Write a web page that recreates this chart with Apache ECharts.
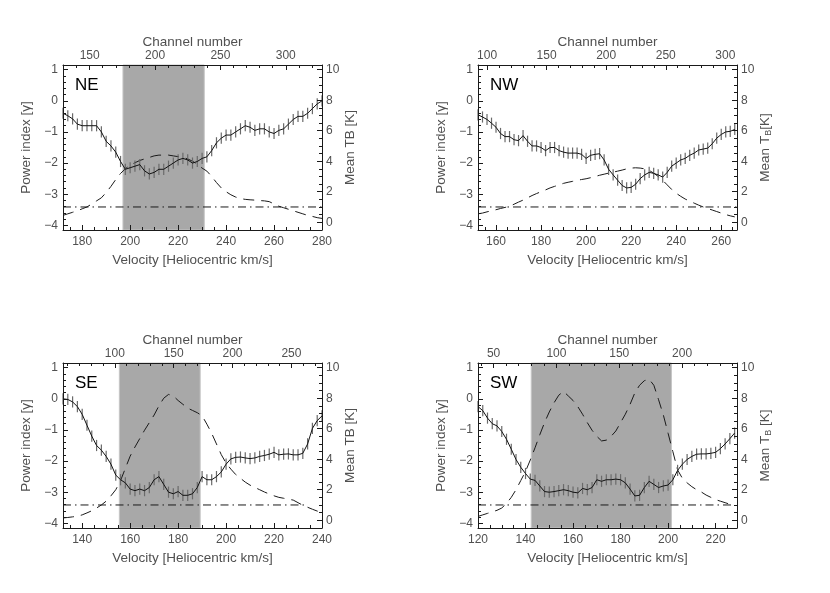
<!DOCTYPE html>
<html>
<head>
<meta charset="utf-8">
<script src="https://cdn.jsdelivr.net/npm/echarts@6/dist/echarts.min.js"></script>
<style>
  html, body { margin: 0; background: #fff; }
  #chart { width: 830px; height: 593px; }
</style>
</head>
<body>
<div id="chart"></div>
<script>
/*
 * 数据
 */
// NE
var neVel = [172,174,176,178,180,182,184,186,188,190,192,194,196,198,200,202,204,206,208,210,212,214,216,218,220,222,224,226,228,230,232,234,236,238,240,242,244,246,248,250,252,254,256,258,260,262,264,266,268,270,272,274,276,278,280];
var nePower = [-0.40,-0.48,-0.58,-0.75,-0.80,-0.80,-0.80,-0.80,-1.00,-1.30,-1.45,-1.65,-1.95,-2.20,-2.15,-2.10,-2.05,-2.25,-2.35,-2.30,-2.20,-2.20,-2.10,-2.00,-1.90,-1.85,-1.90,-2.00,-1.95,-1.85,-1.80,-1.60,-1.35,-1.20,-1.10,-1.10,-1.00,-0.90,-0.80,-0.85,-0.95,-0.90,-0.90,-1.00,-1.05,-0.95,-0.90,-0.75,-0.60,-0.50,-0.50,-0.40,-0.25,-0.10,0.00];
var neTb = [0.45,0.55,0.65,0.75,0.88,1.0,1.2,1.4,1.6,1.95,2.35,2.8,3.2,3.5,3.75,3.9,4.05,4.15,4.25,4.35,4.4,4.4,4.4,4.35,4.3,4.25,4.15,4.0,3.8,3.55,3.35,3.0,2.6,2.25,2.0,1.8,1.65,1.55,1.5,1.47,1.45,1.42,1.4,1.35,1.2,1.05,0.95,0.85,0.75,0.65,0.55,0.45,0.38,0.3,0.25];
var neShade = [197, 230.9];
var neNoiseSpan = [172, 280];
var neVelTicks = [180, 200, 220, 240, 260, 280];
var neChanTicks = [150, 200, 250, 300];

// NW
var nwVel = [152,154,156,158,160,162,164,166,168,170,172,174,176,178,180,182,184,186,188,190,192,194,196,198,200,202,204,206,208,210,212,214,216,218,220,222,224,226,228,230,232,234,236,238,240,242,244,246,248,250,252,254,256,258,260,262,264,266];
var nwPower = [-0.45,-0.52,-0.60,-0.72,-0.85,-1.05,-1.15,-1.15,-1.25,-1.28,-1.12,-1.30,-1.45,-1.45,-1.50,-1.60,-1.50,-1.50,-1.60,-1.65,-1.68,-1.68,-1.68,-1.72,-1.85,-1.75,-1.72,-1.70,-1.90,-2.20,-2.38,-2.55,-2.72,-2.80,-2.78,-2.68,-2.50,-2.38,-2.30,-2.33,-2.38,-2.45,-2.30,-2.10,-2.00,-1.90,-1.85,-1.75,-1.68,-1.58,-1.55,-1.52,-1.38,-1.20,-1.08,-1.00,-0.98,-0.92];
var nwTb = [0.55,0.6,0.68,0.75,0.82,0.9,0.97,1.05,1.18,1.32,1.45,1.6,1.75,1.88,2.0,2.12,2.25,2.35,2.45,2.55,2.62,2.68,2.75,2.8,2.85,2.92,3.0,3.08,3.15,3.22,3.28,3.35,3.42,3.5,3.55,3.57,3.55,3.5,3.4,3.22,3.0,2.75,2.45,2.15,1.9,1.7,1.52,1.38,1.25,1.12,1.0,0.9,0.8,0.7,0.6,0.5,0.42,0.35];
var nwShade = null;
var nwNoiseSpan = [152, 267];
var nwVelTicks = [160, 180, 200, 220, 240, 260];
var nwChanTicks = [100, 150, 200, 250, 300];

// SE
var seVel = [132,134,136,138,140,142,144,146,148,150,152,154,156,158,160,162,164,166,168,170,172,174,176,178,180,182,184,186,188,190,192,194,196,198,200,202,204,206,208,210,212,214,216,218,220,222,224,226,228,230,232,234,236,238,240];
var sePower = [0.0,-0.02,-0.1,-0.25,-0.5,-0.85,-1.2,-1.5,-1.65,-1.85,-2.1,-2.45,-2.6,-2.7,-2.9,-2.95,-2.9,-2.95,-2.85,-2.6,-2.5,-2.75,-3.0,-3.05,-2.98,-3.1,-3.1,-3.05,-2.85,-2.5,-2.6,-2.6,-2.5,-2.35,-2.1,-1.93,-1.88,-1.87,-1.9,-1.92,-1.9,-1.85,-1.82,-1.78,-1.72,-1.8,-1.78,-1.77,-1.8,-1.8,-1.75,-1.45,-0.95,-0.7,-0.55];
var seTb = [0.15,0.18,0.22,0.26,0.35,0.48,0.62,0.8,1.0,1.25,1.6,2.0,2.6,3.4,4.2,4.8,5.35,5.9,6.4,6.9,7.5,8.0,8.25,8.15,7.85,7.6,7.35,7.2,7.05,6.85,6.3,5.7,5.0,4.3,3.75,3.35,3.0,2.75,2.5,2.3,2.15,2.0,1.85,1.72,1.6,1.5,1.44,1.38,1.32,1.15,0.98,0.85,0.72,0.6,0.48];
var seShade = [155.5, 189.2];
var seNoiseSpan = [132, 233];
var seVelTicks = [140, 160, 180, 200, 220, 240];
var seChanTicks = [100, 150, 200, 250];

// SW
var swVel = [120,122,124,126,128,130,132,134,136,138,140,142,144,146,148,150,152,154,156,158,160,162,164,166,168,170,172,174,176,178,180,182,184,186,188,190,192,194,196,198,200,202,204,206,208,210,212,214,216,218,220,222,224,226,228];
var swPower = [-0.25,-0.38,-0.62,-0.8,-0.87,-1.05,-1.3,-1.62,-1.95,-2.2,-2.4,-2.58,-2.62,-2.8,-2.98,-3.0,-2.98,-2.95,-2.92,-2.95,-3.0,-3.02,-2.88,-2.92,-2.85,-2.6,-2.65,-2.6,-2.6,-2.58,-2.6,-2.7,-2.9,-3.12,-3.1,-2.85,-2.65,-2.75,-2.85,-2.8,-2.77,-2.6,-2.3,-2.1,-1.95,-1.85,-1.78,-1.77,-1.77,-1.75,-1.72,-1.6,-1.45,-1.28,-1.1];
var swTb = [0.25,0.35,0.45,0.55,0.65,0.8,1.1,1.5,2.0,2.6,3.2,3.95,4.75,5.6,6.4,7.1,7.7,8.2,8.45,8.15,7.85,7.45,6.95,6.4,5.9,5.5,5.2,5.25,5.5,5.85,6.4,6.95,7.6,8.35,8.85,9.15,9.25,8.85,7.9,6.9,5.7,4.5,3.3,2.75,2.45,2.2,2.0,1.85,1.65,1.5,1.35,1.25,1.15,1.05,null];
var swShade = [142.4, 201.4];
var swNoiseSpan = [120, 226.5];
var swVelTicks = [120, 140, 160, 180, 200, 220];
var swChanTicks = [50, 100, 150, 200];

var powerTicks = [-4, -3, -2, -1, 0, 1];
var tbTicks = [0, 2, 4, 6, 8, 10];
var noiseLevel = 1.0;   // 点划线 (右轴)
var errHalf = 0.18;     // 误差棒半长

/*
 * 工具函数
 */
var FONT = '"Liberation Sans", Arial, sans-serif';
var ink = '#1a1a1a';
var txt = '#505050';

function fmt(v) {
  return String(v).replace('-', '\u2212');
}

function minorList(min, max, step) {
  var out = [];
  var start = Math.ceil(min / step) * step;
  for (var v = start; v <= max + 1e-9; v += step) {
    out.push(Math.round(v * 1000) / 1000);
  }
  return out;
}

function pairs(xs, ys) {
  return xs.map(function (x, i) { return [x, ys[i]]; });
}

function majorAxis(grid, pos, min, max, ticks, name, nameGap, margin, extra) {
  var a = {
    type: 'value', gridIndex: grid, position: pos, min: min, max: max, z: 10,
    axisLine: { show: true, onZero: false, lineStyle: { color: ink, width: 1 } },
    axisTick: { show: true, inside: true, length: 5, customValues: ticks, lineStyle: { color: ink } },
    axisLabel: { show: true, customValues: ticks, margin: margin, color: txt, fontSize: 12, fontFamily: FONT, formatter: fmt },
    splitLine: { show: false },
    name: name, nameLocation: 'middle', nameGap: nameGap,
    nameTextStyle: { color: txt, fontSize: 13.5, fontFamily: FONT }
  };
  for (var k in extra) a[k] = extra[k];
  return a;
}

function minorAxis(grid, pos, min, max, step) {
  return {
    type: 'value', gridIndex: grid, position: pos, min: min, max: max, z: 10,
    axisLine: { show: false, onZero: false },
    axisTick: { show: true, inside: true, length: 3, customValues: minorList(min, max, step), lineStyle: { color: ink } },
    axisLabel: { show: false },
    splitLine: { show: false }
  };
}

var panels = [
  { label: 'NE', vel: neVel, power: nePower, tb: neTb, shade: neShade, noise: neNoiseSpan,
    velRange: [172, 280], velTicks: neVelTicks, chanRange: [129.6, 327.7], chanTicks: neChanTicks,
    tbName: 'Mean TB [K]', left: 63, top: 65 },
  { label: 'NW', vel: nwVel, power: nwPower, tb: nwTb, shade: nwShade, noise: nwNoiseSpan,
    velRange: [152, 267], velTicks: nwVelTicks, chanRange: [92.4, 309.8], chanTicks: nwChanTicks,
    tbName: 'Mean T{s|B}[K]', left: 478, top: 65 },
  { label: 'SE', vel: seVel, power: sePower, tb: seTb, shade: seShade, noise: seNoiseSpan,
    velRange: [132, 240], velTicks: seVelTicks, chanRange: [56, 276], chanTicks: seChanTicks,
    tbName: 'Mean TB [K]', left: 63, top: 363 },
  { label: 'SW', vel: swVel, power: swPower, tb: swTb, shade: swShade, noise: swNoiseSpan,
    velRange: [120, 229], velTicks: swVelTicks, chanRange: [37.6, 243.7], chanTicks: swChanTicks,
    tbName: 'Mean T{s|B} [K]', left: 478, top: 363 }
];

var powerRange = [-4.15, 1.15];
var tbRange = [-0.51, 10.31];

var option = {
  animation: false,
  textStyle: { fontFamily: FONT },
  title: [], grid: [], xAxis: [], yAxis: [], series: []
};

panels.forEach(function (p, i) {
  option.grid.push({ left: p.left, top: p.top, width: 259, height: 165, containLabel: false });

  option.title.push({
    text: p.label, left: p.left + 12, top: p.top + 12, padding: 0,
    textStyle: { fontSize: 17, fontWeight: 'normal', color: '#000', fontFamily: FONT }
  });

  // x 轴: 速度 (下), 通道 (上)
  option.xAxis.push(majorAxis(i, 'bottom', p.velRange[0], p.velRange[1], p.velTicks,
    'Velocity [Heliocentric km/s]', 23, 6, {}));
  option.xAxis.push(minorAxis(i, 'bottom', p.velRange[0], p.velRange[1], 5));
  option.xAxis.push(majorAxis(i, 'top', p.chanRange[0], p.chanRange[1], p.chanTicks,
    'Channel number', 14, 3, {}));
  option.xAxis.push(minorAxis(i, 'top', p.chanRange[0], p.chanRange[1], 10));

  // y 轴: 功率指数 (左), 亮温 (右)
  option.yAxis.push(majorAxis(i, 'left', powerRange[0], powerRange[1], powerTicks,
    'Power index [\u03b3]', 30, 5, { nameRotate: 90 }));
  option.yAxis.push(minorAxis(i, 'left', powerRange[0], powerRange[1], 0.2));
  var right = majorAxis(i, 'right', tbRange[0], tbRange[1], tbTicks, p.tbName, 19, 4, { nameRotate: 90 });
  right.nameTextStyle.rich = { s: { fontSize: 9, color: txt, fontFamily: FONT, padding: [7, 0, 0, 0] } };
  option.yAxis.push(right);
  option.yAxis.push(minorAxis(i, 'right', tbRange[0], tbRange[1], 0.5));

  var xb = i * 4, yl = i * 4, yr = i * 4 + 2;
  var noiseData = [[p.noise[0], noiseLevel], [p.noise[1], noiseLevel]];

  // 阴影区
  if (p.shade) {
    option.series.push({
      type: 'line', xAxisIndex: xb, yAxisIndex: yr, z: 1, silent: true,
      data: noiseData, showSymbol: false, lineStyle: { opacity: 0 },
      markArea: {
        silent: true,
        itemStyle: { color: '#a8a8a8', borderColor: '#c6c6c6', borderWidth: 1 },
        data: [[{ xAxis: p.shade[0] }, { xAxis: p.shade[1] }]]
      }
    });
  }

  // 点划线
  option.series.push({
    type: 'line', xAxisIndex: xb, yAxisIndex: yr, z: 3, silent: true,
    data: noiseData, showSymbol: false,
    lineStyle: { color: ink, width: 1, type: [8, 4, 1.5, 4] }
  });

  // 亮温 (虚线)
  option.series.push({
    type: 'line', xAxisIndex: xb, yAxisIndex: yr, z: 4, silent: true,
    data: pairs(p.vel, p.tb), showSymbol: false, connectNulls: false,
    lineStyle: { color: ink, width: 1, type: [11, 7] }
  });

  // 误差棒
  option.series.push({
    type: 'custom', xAxisIndex: xb, yAxisIndex: yl, z: 5, silent: true,
    data: pairs(p.vel, p.power),
    renderItem: function (params, api) {
      var x = api.value(0), y = api.value(1);
      var a = api.coord([x, y - errHalf]);
      var b = api.coord([x, y + errHalf]);
      return {
        type: 'line',
        shape: { x1: a[0], y1: a[1], x2: b[0], y2: b[1] },
        style: { stroke: '#6a6a6a', lineWidth: 1.2 }
      };
    }
  });

  // 功率指数
  option.series.push({
    type: 'line', xAxisIndex: xb, yAxisIndex: yl, z: 6, silent: true,
    data: pairs(p.vel, p.power), showSymbol: false,
    lineStyle: { color: '#111', width: 1 }
  });
});

var chart = echarts.init(document.getElementById('chart'));
chart.setOption(option);
</script>
</body>
</html>
